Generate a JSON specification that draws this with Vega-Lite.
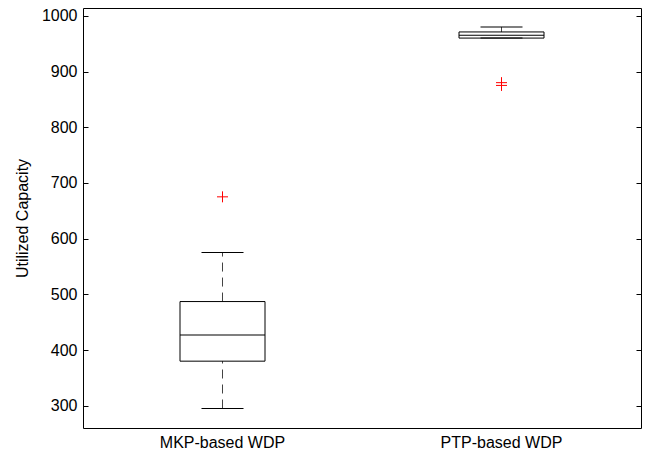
{
  "$schema": "https://vega.github.io/schema/vega-lite/v6.json",
  "width": 558,
  "height": 420,
  "autosize": {"type": "none"},
  "padding": {"left": 83, "top": 8, "right": 11, "bottom": 24},
  "datasets": {
    "stats": [
      {"group": "MKP-based WDP", "lower": 295, "q1": 380, "median": 427, "q3": 487, "upper": 575},
      {"group": "PTP-based WDP", "lower": 960, "q1": 960, "median": 965, "q3": 971, "upper": 980}
    ],
    "outliers": [
      {"group": "MKP-based WDP", "value": 675},
      {"group": "PTP-based WDP", "value": 880},
      {"group": "PTP-based WDP", "value": 875}
    ]
  },
  "data": {"name": "stats"},
  "encoding": {
    "x": {
      "field": "group", "type": "nominal", "sort": null,
      "scale": {"paddingInner": 0, "paddingOuter": 0},
      "axis": {"title": null, "ticks": false, "domain": false, "labelAngle": 0, "labelPadding": 6, "labelFontSize": 16, "labelFont": "Liberation Sans", "labelColor": "#000"}
    }
  },
  "layer": [
    {
      "mark": {"type": "rule", "stroke": "#444", "strokeWidth": 1, "strokeDash": [9, 6]},
      "encoding": {
        "y": {"field": "lower", "type": "quantitative", "scale": {"domain": [260, 1014], "nice": false, "zero": false},
          "axis": {"orient": "left", "title": "Utilized Capacity", "format": "d", "values": [300, 400, 500, 600, 700, 800, 900, 1000], "grid": false, "domain": false, "tickSize": -5, "tickColor": "#000", "labelPadding": 11, "labelFontSize": 16, "labelFont": "Liberation Sans", "labelColor": "#000", "titleFont": "Liberation Sans", "titleFontSize": 16, "titleFontWeight": "normal", "titleColor": "#000", "titlePadding": 11}},
        "y2": {"field": "q1"}
      }
    },
    {
      "mark": {"type": "rule", "stroke": "#444", "strokeWidth": 1, "strokeDash": [9, 6]},
      "encoding": {
        "y": {"field": "q3", "type": "quantitative",
          "axis": {"orient": "right", "title": null, "labels": false, "values": [300, 400, 500, 600, 700, 800, 900, 1000], "grid": false, "domain": false, "tickSize": -5, "tickColor": "#000"}},
        "y2": {"field": "upper"}
      }
    },
    {
      "mark": {"type": "bar", "size": 85, "fill": "white", "fillOpacity": 0, "stroke": "#000", "strokeWidth": 1},
      "encoding": {
        "y": {"field": "q1", "type": "quantitative", "axis": null},
        "y2": {"field": "q3"}
      }
    },
    {
      "mark": {"type": "tick", "size": 85, "thickness": 1, "color": "#000", "opacity": 1},
      "encoding": {"y": {"field": "median", "type": "quantitative", "axis": null}}
    },
    {
      "mark": {"type": "tick", "size": 42, "thickness": 1, "color": "#000", "opacity": 1},
      "encoding": {"y": {"field": "upper", "type": "quantitative", "axis": null}}
    },
    {
      "mark": {"type": "tick", "size": 42, "thickness": 1, "color": "#000", "opacity": 1},
      "encoding": {"y": {"field": "lower", "type": "quantitative", "axis": null}}
    },
    {
      "data": {"name": "outliers"},
      "mark": {"type": "point", "shape": "M-1,0L1,0M0,-1L0,1", "filled": false, "stroke": "red", "strokeWidth": 1, "size": 121, "opacity": 1},
      "encoding": {"y": {"field": "value", "type": "quantitative", "axis": null}}
    }
  ],
  "resolve": {"axis": {"y": "independent"}},
  "config": {
    "view": {"stroke": "#000", "strokeWidth": 1},
    "background": "white"
  }
}
